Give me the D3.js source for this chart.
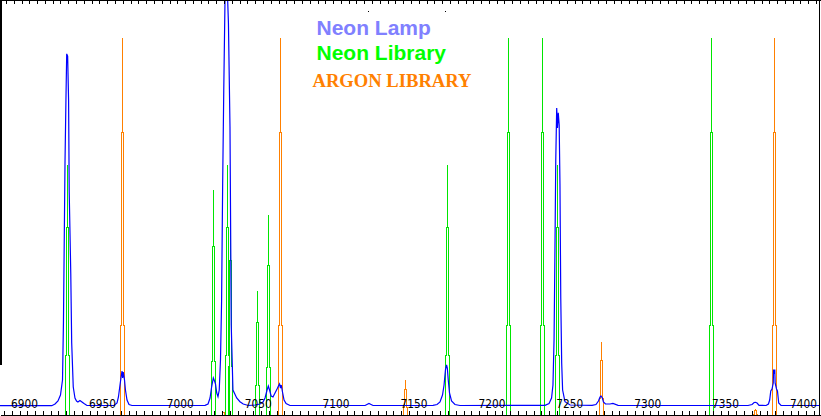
<!DOCTYPE html>
<html><head><meta charset="utf-8">
<script src="https://cdn.jsdelivr.net/npm/d3@7"></script>
<style>html,body{margin:0;padding:0;background:#fff;overflow:hidden}svg{display:block}</style>
</head><body>
<svg id="c" width="821" height="416"></svg>
<script>
// ---- Neon lamp spectrum (wavelength in Å, relative intensity %) ----
const lampWavelength = [6887.5,6906.7,6920.7,6922.8,6924.7,6926.3,6927.6,6928.2,6929.2,6929.8,6930.3,6930.9,6931.5,6931.9,6932.9,6933.5,6934.5,6935.6,6936.6,6937.5,6938.8,6940.1,6941.4,6943.3,
  6960.7,6962.6,6963.5,6964.5,6965.3,6965.8,6966.2,6966.6,6967.4,6968.0,6969.0,6970.3,6972.2,
  7019.1,7021.0,7022.3,7023.2,7024.4,7025.2,7025.8,7026.6,7027.4,7028.2,7029.0,7029.7,7030.4,7031.1,7031.9,7032.5,7033.1,7033.6,7034.1,7035.1,7035.9,7037.0,7039.4,7041.5,7043.6,7046.9,
  7051.2,7054.4,7056.3,7057.6,7058.9,7059.7,7060.5,7061.5,7062.7,7064.0,7065.3,7066.2,7066.9,7067.5,7068.0,7068.8,7069.8,7071.1,7073.6,
  7121.8,7124.3,7126.9,
  7165.4,7168.0,7169.9,7171.5,7172.5,7173.4,7174.1,7174.6,7175.2,7176.0,7177.3,7179.5,7182.7,
  7237.3,7239.9,7241.5,7242.4,7243.1,7243.6,7244.2,7244.8,7245.3,7245.8,7246.4,7246.9,7247.4,7248.0,7248.6,7250.1,7253.4,
  7267.5,7270.0,7271.6,7272.6,7273.2,7274.1,7274.8,7276.1,7279.0,7280.9,7284.2,
  7367.6,7370.2,7371.5,7372.4,7373.4,7374.7,
  7379.2,7380.7,7381.5,7382.2,7383.0,7383.8,7384.0,7384.4,7384.8,7385.0,7385.9,7386.5,7387.3,7388.8,7413.8];
const lampIntensity = [2.72,2.72,2.72,3.17,3.97,5.56,9.52,24.6,66.9,83.6,95.8,95.2,83.6,59.3,37.8,19.3,7.67,4.76,3.97,3.70,4.10,3.70,3.31,2.78,
  2.78,3.44,5.03,8.20,10.6,11.9,10.1,11.6,9.52,6.88,4.23,3.04,2.78,
  2.83,3.17,4.76,7.41,10.1,9.26,8.47,6.08,5.11,6.88,14.8,30.2,61.6,86.2,110.1,123.3,123.3,110.1,104.0,76.5,24.1,6.88,4.76,3.78,3.17,2.78,
  2.91,3.17,3.70,4.76,6.88,7.94,6.88,5.29,5.03,6.08,7.14,7.94,8.47,7.41,8.20,6.35,4.23,3.31,2.78,
  2.78,3.31,2.78,
  2.83,3.04,3.70,5.56,8.20,12.2,13.5,12.7,9.52,6.08,3.97,3.04,2.78,
  2.83,3.31,4.76,8.20,20.1,40.5,67.7,81.5,76.2,80.2,77.0,61.1,31.5,14.0,6.88,3.78,2.91,
  2.83,3.04,3.97,5.03,5.29,4.76,3.70,3.17,3.17,3.31,2.83,
  2.78,3.04,3.57,3.62,3.44,2.83,
  2.78,3.17,4.23,6.61,7.14,8.73,12.3,11.1,12.3,8.73,7.14,6.61,3.44,2.83,2.78];

// ---- Neon library lines ----
const neonLines     = [6930.6,7024.4,7033.4,7034.9,7052.7,7059.6,7174.2,7213.7,7235.6,7245.2,7343.8];
const neonIntensity = [66.4,  59.8,  66.4,  55.0,  33.1,  53.2,  66.4,  100,   100,   66.4,  100];

// ---- Argon library lines ----
const argonLines     = [6966.0,7030.6,7067.2,7147.6,7273.2,7372.1,7384.5];
const argonIntensity = [100,   1.1,   100,   9.5,   19.7,  1.8,   100];

// ---- Axis ----
const tickLabels = ["6900","6950","7000","7050","7100","7150","7200","7250","7300","7350","7400"];
const minorTickValues = d3.range(6890, 7411, 5);

const legendLabels = ["Neon Lamp","Neon Library","ARGON LIBRARY"];

const svg = d3.select("#c");
const xScale = d3.scaleLinear().domain([6887.48, 7413.8]).range([0, 820]);
const yScale = d3.scaleLinear().domain([0, 100]).range([416, 38]);

svg.append("rect").attr("width",821).attr("height",416).attr("fill","#fff");

// library line shape (stepped narrow peak)
function linePath(w, v) {
  const cx = Math.round(xScale(w)) + 0.5;
  const yb = yScale(0), y1 = yScale(v*0.24), y2 = yScale(v*0.75), y3 = yScale(v);
  return `M${cx-2},${yb}V${y1}H${cx-1}V${y2}H${cx}V${y3}V${y2}H${cx+1}V${y1}H${cx+2}V${yb}`;
}
const neon = neonLines.map((w,i)=>({w, v:neonIntensity[i]}));
const argon = argonLines.map((w,i)=>({w, v:argonIntensity[i]}));

svg.append("g").selectAll("path").data(neon).join("path")
  .attr("d", d=>linePath(d.w,d.v)).attr("fill","none")
  .attr("stroke","#00e600").attr("stroke-width",1).attr("shape-rendering","crispEdges");
svg.append("g").selectAll("path").data(argon).join("path")
  .attr("d", d=>linePath(d.w,d.v)).attr("fill","none")
  .attr("stroke","#ff8000").attr("stroke-width",1).attr("shape-rendering","crispEdges");

// lamp spectrum
const lamp = lampWavelength.map((w,i)=>[w, lampIntensity[i]]);
svg.append("path").datum(lamp)
  .attr("d", d3.line().x(d=>xScale(d[0])).y(d=>yScale(d[1])))
  .attr("fill","none").attr("stroke","#0000ff").attr("stroke-width",1.2);

// bottom axis (ticks pointing up)
svg.append("g").attr("transform","translate(0,415)")
  .call(d3.axisTop(xScale).tickValues(minorTickValues).tickSize(4).tickSizeOuter(0).tickFormat(""));
// top axis (ticks pointing down)
svg.append("g").attr("transform","translate(2,0)")
  .call(d3.axisBottom(xScale).tickValues(minorTickValues).tickSize(4).tickSizeOuter(0).tickFormat(""));
svg.selectAll(".domain").attr("stroke","#000").attr("shape-rendering","crispEdges");
svg.selectAll(".tick line").attr("stroke","#000").attr("shape-rendering","crispEdges");

// tick labels
svg.append("g").selectAll("text").data(tickLabels).join("text")
  .attr("x", d=>xScale(+d)+5).attr("y",408).attr("text-anchor","middle")
  .attr("font-family","'DejaVu Sans', sans-serif").attr("font-size",12).attr("fill","#000")
  .attr("textLength",27).attr("lengthAdjust","spacingAndGlyphs")
  .text(d=>d);

// borders
svg.append("line").attr("x1",819.5).attr("x2",819.5).attr("y1",0).attr("y2",416).attr("stroke","#000").attr("shape-rendering","crispEdges");
svg.append("rect").attr("x",0).attr("y",0).attr("width",2).attr("height",365).attr("fill","#000");
svg.append("line").attr("x1",0).attr("x2",821).attr("y1",0.5).attr("y2",0.5).attr("stroke","#000").attr("shape-rendering","crispEdges");

// small marks near top
[[368,11],[445,11]].forEach(p=>svg.append("rect").attr("x",p[0]).attr("y",p[1]).attr("width",1).attr("height",1).attr("fill","#000"));

// legend
const legend = [
  {t:legendLabels[0], x:316.5, y:35, c:"#8080ff", f:"'Liberation Sans', Arial, sans-serif", s:21},
  {t:legendLabels[1], x:316.5, y:60, c:"#00ff00", f:"'Liberation Sans', Arial, sans-serif", s:21},
  {t:legendLabels[2], x:312.5, y:87, c:"#ff8000", f:"'Liberation Serif', 'Times New Roman', serif", s:18.6}
];
svg.append("g").selectAll("text").data(legend).join("text")
  .attr("x",d=>d.x).attr("y",d=>d.y).attr("fill",d=>d.c)
  .attr("font-family",d=>d.f).attr("font-size",d=>d.s).attr("font-weight","bold")
  .text(d=>d.t);
</script>
</body></html>
